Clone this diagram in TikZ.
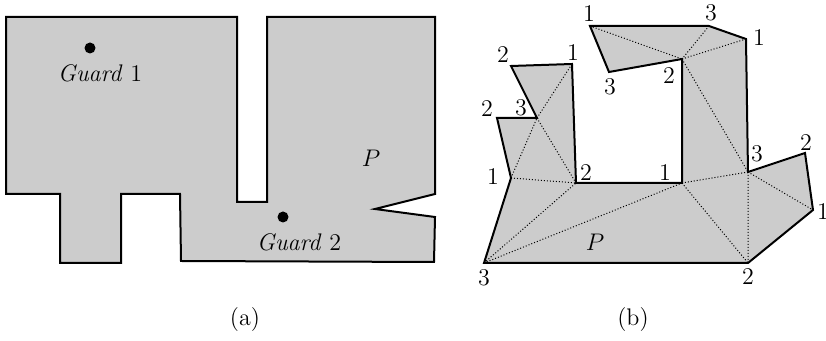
\documentclass[12pt,tikz,border=0pt]{standalone}
\usetikzlibrary{positioning}
\begin{document}
\begin{tikzpicture}[
  x=0.5pt, y=-0.5pt,
  region/.style={draw=black, fill=black!20, line width=1pt, line join=miter},
  diag/.style={densely dotted, line width=0.5pt},
  guard/.style={circle, fill=black, inner sep=0pt, minimum size=5.5pt},
  lab/.style={inner sep=0pt}
]
\useasboundingbox (0,0) rectangle (826,341);

% (a) polygon with two guards
\draw[region] (6,17) -- (237,17) -- (237,202) -- (267,202) -- (267,17) -- (435,17)
  -- (435,194) -- (375,209) -- (435,217) -- (434,262) -- (181,261) -- (180,194)
  -- (121,194) -- (121,263) -- (60,263) -- (60,194) -- (6,194) -- cycle;

\node[guard] (g1) at (90,48) {};
\node[lab] (g1lab) at (100,73) {\textit{Guard} 1};
\node[guard] (g2) at (283,217) {};
\node[lab] (g2lab) at (299,242) {\textit{Guard} 2};
\node[lab] (pa) at (371,158) {$P$};

% (b) triangulated polygon
\coordinate (v1) at (590,26);
\coordinate (v2) at (709,26);
\coordinate (v3) at (746,39);
\coordinate (v4) at (748,172);
\coordinate (v5) at (805,153);
\coordinate (v6) at (813,210);
\coordinate (v7) at (748,263);
\coordinate (v8) at (484,263);
\coordinate (v9) at (511,178);
\coordinate (v10) at (497,118);
\coordinate (v11) at (537,118);
\coordinate (v12) at (511,66);
\coordinate (v13) at (572,64);
\coordinate (v14) at (576,183);
\coordinate (v15) at (682,183);
\coordinate (v16) at (682,59);
\coordinate (v17) at (609,72);

\fill[black!20] (v1) -- (v2) -- (v3) -- (v4) -- (v5) -- (v6) -- (v7) -- (v8) -- (v9)
  -- (v10) -- (v11) -- (v12) -- (v13) -- (v14) -- (v15) -- (v16) -- (v17) -- cycle;

\draw[diag] (v1) -- (v16) (v2) -- (v16) (v3) -- (v16) (v16) -- (v4);
\draw[diag] (v4) -- (v7) (v4) -- (v15) (v4) -- (v6) (v15) -- (v7) (v8) -- (v15);
\draw[diag] (v8) -- (v14) (v9) -- (v14) (v11) -- (v14) (v9) -- (v11) (v11) -- (v13);

\draw[region, fill=none] (v1) -- (v2) -- (v3) -- (v4) -- (v5) -- (v6) -- (v7) -- (v8) -- (v9)
  -- (v10) -- (v11) -- (v12) -- (v13) -- (v14) -- (v15) -- (v16) -- (v17) -- cycle;

\node[lab] (c1) at (589,14) {1};
\node[lab] (c2) at (711,13) {3};
\node[lab] (c3) at (759,38) {1};
\node[lab] (c4) at (806,143) {2};
\node[lab] (c5) at (823,212) {1};
\node[lab] (c6) at (748,277) {2};
\node[lab] (c7) at (484,278) {3};
\node[lab] (c8) at (493,177) {1};
\node[lab] (c9) at (487,109) {2};
\node[lab] (c10) at (521,108) {3};
\node[lab] (c11) at (503,55) {2};
\node[lab] (c12) at (573,53) {1};
\node[lab] (c13) at (586,173) {2};
\node[lab] (c14) at (665,173) {1};
\node[lab] (c15) at (669,76) {2};
\node[lab] (c16) at (610,87) {3};
\node[lab] (c17) at (757,154) {3};
\node[lab] (pb) at (595,242) {$P$};

% captions
\node[lab] (capa) at (245,320) {(a)};
\node[lab] (capb) at (633,320) {(b)};
\end{tikzpicture}
\end{document}
